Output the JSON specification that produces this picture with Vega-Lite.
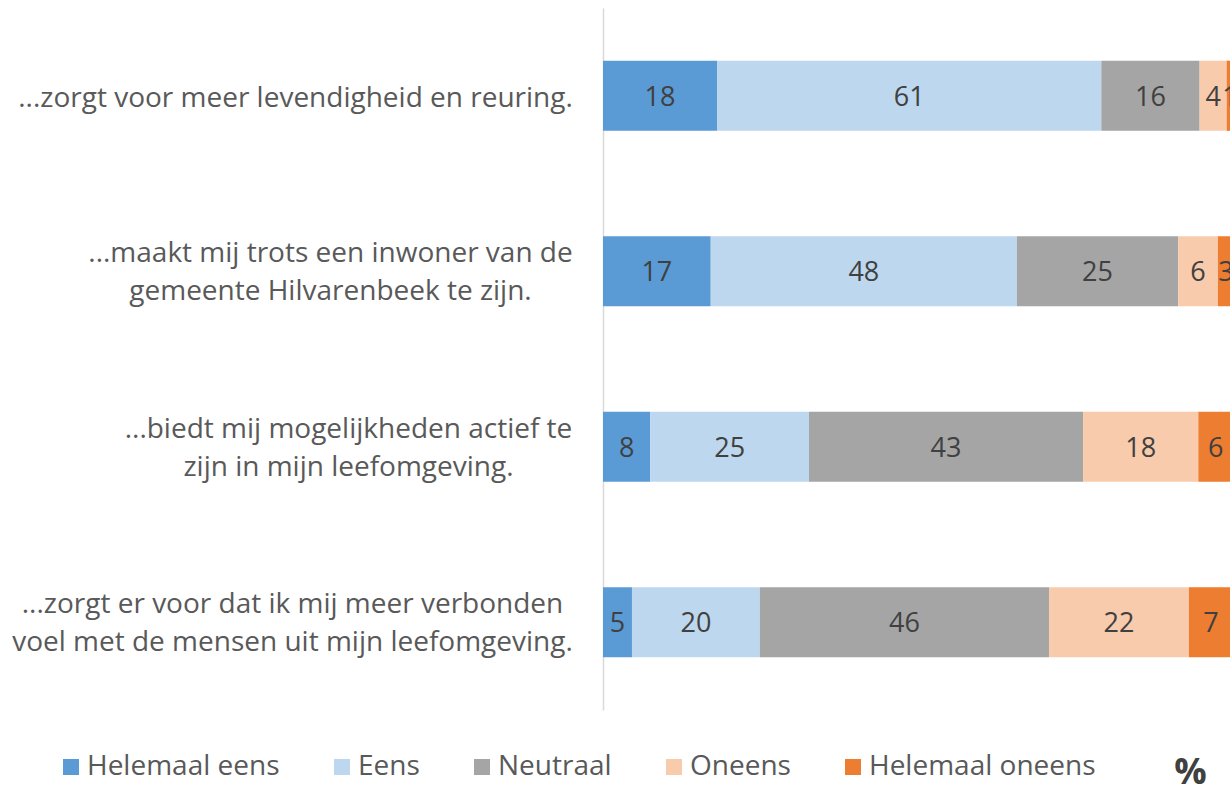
{
  "$schema": "https://vega.github.io/schema/vega-lite/v6.json",
  "width": 630,
  "height": 702,
  "autosize": {"type": "none"},
  "padding": {"left": 603, "top": 8, "right": 0, "bottom": 78},
  "background": "white",
  "config": {
    "view": {"stroke": null},
    "font": "Open Sans"
  },
  "data": {
    "values": [
      {"stelling": "...zorgt voor meer levendigheid en reuring.", "antwoord": "Helemaal eens", "k": 1, "waarde": 18.1, "label": 18},
      {"stelling": "...zorgt voor meer levendigheid en reuring.", "antwoord": "Eens", "k": 2, "waarde": 61.0, "label": 61},
      {"stelling": "...zorgt voor meer levendigheid en reuring.", "antwoord": "Neutraal", "k": 3, "waarde": 15.6, "label": 16},
      {"stelling": "...zorgt voor meer levendigheid en reuring.", "antwoord": "Oneens", "k": 4, "waarde": 4.3, "label": 4},
      {"stelling": "...zorgt voor meer levendigheid en reuring.", "antwoord": "Helemaal oneens", "k": 5, "waarde": 1.0, "label": 1},
      {"stelling": "...maakt mij trots een inwoner van de gemeente Hilvarenbeek te zijn.", "antwoord": "Helemaal eens", "k": 1, "waarde": 17.1, "label": 17},
      {"stelling": "...maakt mij trots een inwoner van de gemeente Hilvarenbeek te zijn.", "antwoord": "Eens", "k": 2, "waarde": 48.6, "label": 48},
      {"stelling": "...maakt mij trots een inwoner van de gemeente Hilvarenbeek te zijn.", "antwoord": "Neutraal", "k": 3, "waarde": 25.6, "label": 25},
      {"stelling": "...maakt mij trots een inwoner van de gemeente Hilvarenbeek te zijn.", "antwoord": "Oneens", "k": 4, "waarde": 6.3, "label": 6},
      {"stelling": "...maakt mij trots een inwoner van de gemeente Hilvarenbeek te zijn.", "antwoord": "Helemaal oneens", "k": 5, "waarde": 2.6, "label": 3},
      {"stelling": "...biedt mij mogelijkheden actief te zijn in mijn leefomgeving.", "antwoord": "Helemaal eens", "k": 1, "waarde": 7.5, "label": 8},
      {"stelling": "...biedt mij mogelijkheden actief te zijn in mijn leefomgeving.", "antwoord": "Eens", "k": 2, "waarde": 25.2, "label": 25},
      {"stelling": "...biedt mij mogelijkheden actief te zijn in mijn leefomgeving.", "antwoord": "Neutraal", "k": 3, "waarde": 43.5, "label": 43},
      {"stelling": "...biedt mij mogelijkheden actief te zijn in mijn leefomgeving.", "antwoord": "Oneens", "k": 4, "waarde": 18.3, "label": 18},
      {"stelling": "...biedt mij mogelijkheden actief te zijn in mijn leefomgeving.", "antwoord": "Helemaal oneens", "k": 5, "waarde": 5.5, "label": 6},
      {"stelling": "...zorgt er voor dat ik mij meer verbonden voel met de mensen uit mijn leefomgeving.", "antwoord": "Helemaal eens", "k": 1, "waarde": 4.6, "label": 5},
      {"stelling": "...zorgt er voor dat ik mij meer verbonden voel met de mensen uit mijn leefomgeving.", "antwoord": "Eens", "k": 2, "waarde": 20.3, "label": 20},
      {"stelling": "...zorgt er voor dat ik mij meer verbonden voel met de mensen uit mijn leefomgeving.", "antwoord": "Neutraal", "k": 3, "waarde": 45.9, "label": 46},
      {"stelling": "...zorgt er voor dat ik mij meer verbonden voel met de mensen uit mijn leefomgeving.", "antwoord": "Oneens", "k": 4, "waarde": 22.2, "label": 22},
      {"stelling": "...zorgt er voor dat ik mij meer verbonden voel met de mensen uit mijn leefomgeving.", "antwoord": "Helemaal oneens", "k": 5, "waarde": 7.0, "label": 7}
    ]
  },
  "encoding": {
    "y": {
      "field": "stelling",
      "type": "nominal",
      "sort": null,
      "scale": {"paddingInner": 0.6, "paddingOuter": 0.3},
      "axis": {
        "title": null,
        "ticks": false,
        "domainColor": "#d9d9d9",
        "domainWidth": 1.5,
        "labelFont": "Open Sans",
        "labelFontSize": 28,
        "labelColor": "#595959",
        "labelAlign": "center",
        "labelBaseline": "middle",
        "labelLineHeight": 38,
        "labelLimit": 0,
        "labelOffset": {
          "condition": {"test": "datum.value === '...zorgt voor meer levendigheid en reuring.'", "value": 3},
          "value": -17
        },
        "labelPadding": {
          "condition": [
            {"test": "datum.value === '...zorgt voor meer levendigheid en reuring.'", "value": 308},
            {"test": "datum.value === '...maakt mij trots een inwoner van de gemeente Hilvarenbeek te zijn.'", "value": 273},
            {"test": "datum.value === '...biedt mij mogelijkheden actief te zijn in mijn leefomgeving.'", "value": 255}
          ],
          "value": 311
        },
        "labelExpr": "datum.value === '...maakt mij trots een inwoner van de gemeente Hilvarenbeek te zijn.' ? ['...maakt mij trots een inwoner van de', 'gemeente Hilvarenbeek te zijn.'] : datum.value === '...biedt mij mogelijkheden actief te zijn in mijn leefomgeving.' ? ['...biedt mij mogelijkheden actief te', 'zijn in mijn leefomgeving.'] : datum.value === '...zorgt er voor dat ik mij meer verbonden voel met de mensen uit mijn leefomgeving.' ? ['...zorgt er voor dat ik mij meer verbonden', 'voel met de mensen uit mijn leefomgeving.'] : datum.value"
      }
    },
    "x": {
      "field": "waarde",
      "type": "quantitative",
      "stack": "zero",
      "scale": {"domain": [0, 100], "nice": false},
      "axis": {
        "title": "%",
        "labels": false,
        "ticks": false,
        "domain": false,
        "grid": false,
        "titleFont": "Open Sans",
        "titleFontSize": 36,
        "titleFontWeight": "bold",
        "titleColor": "#404040",
        "titleX": 587,
        "titleY": 62,
        "titleAlign": "center",
        "titleBaseline": "middle"
      }
    },
    "order": {"field": "k", "type": "ordinal"}
  },
  "layer": [
    {
      "mark": {"type": "bar"},
      "encoding": {
        "color": {
          "field": "antwoord",
          "type": "nominal",
          "sort": ["Helemaal eens", "Eens", "Neutraal", "Oneens", "Helemaal oneens"],
          "scale": {
            "domain": ["Helemaal eens", "Eens", "Neutraal", "Oneens", "Helemaal oneens"],
            "range": ["#5B9BD5", "#BDD7EE", "#A5A5A5", "#F8CBAD", "#ED7D31"]
          },
          "legend": {
            "title": null,
            "orient": "none",
            "direction": "horizontal",
            "legendX": -546,
            "legendY": 745,
            "symbolType": "square",
            "symbolSize": 256,
            "symbolStrokeWidth": 0,
            "labelFont": "Open Sans",
            "labelFontSize": 28,
            "labelColor": "#595959",
            "labelOffset": 2,
            "labelLimit": 0,
            "columnPadding": 48
          }
        }
      }
    },
    {
      "mark": {"type": "text", "font": "Open Sans", "fontSize": 27, "color": "#404040", "align": "center", "baseline": "middle", "dy": 2},
      "encoding": {
        "x": {"field": "waarde", "type": "quantitative", "stack": "zero", "bandPosition": 0.5},
        "text": {"field": "label", "type": "quantitative"}
      }
    }
  ]
}
